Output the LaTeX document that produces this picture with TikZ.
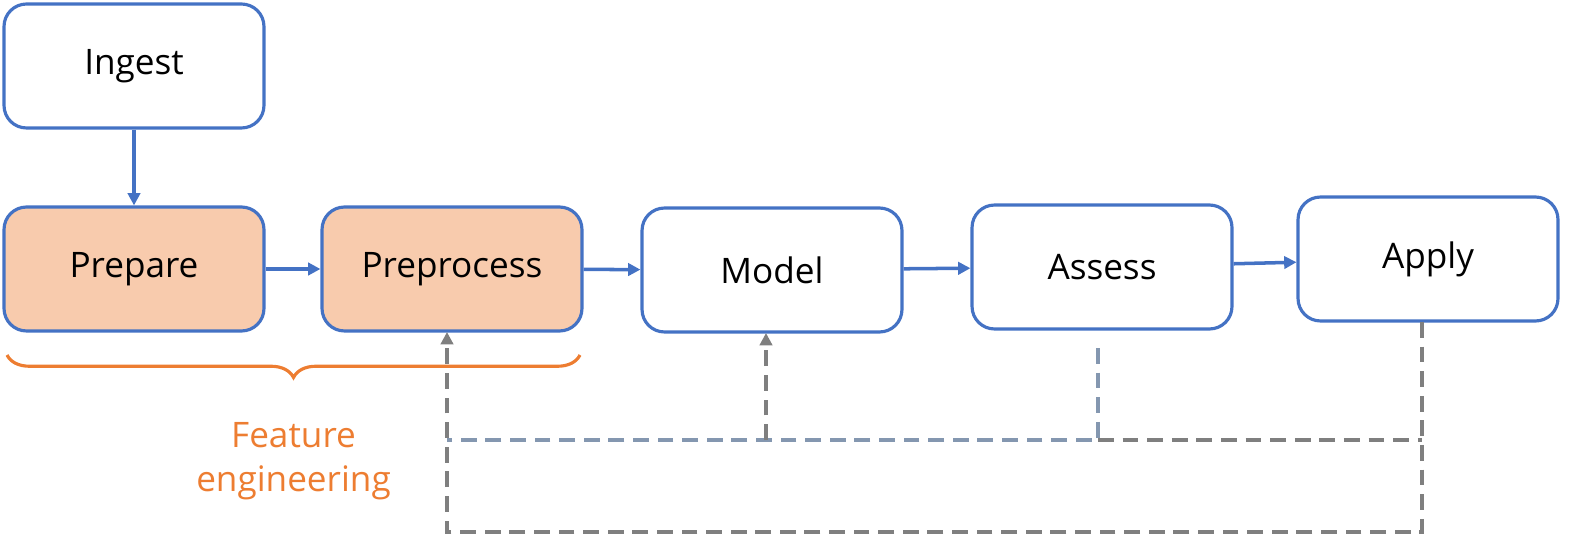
\documentclass[tikz,border=0pt]{standalone}
\usepackage{fontspec}
\setmainfont{Open Sans}
\usetikzlibrary{positioning,decorations.pathreplacing,arrows.meta}
\definecolor{boxblue}{HTML}{4472C4}
\definecolor{peach}{HTML}{F8CBAD}
\definecolor{featorange}{HTML}{ED7D31}
\definecolor{loopgray}{HTML}{7F7F7F}
\definecolor{loopblue}{HTML}{8497B0}
\tikzset{
  stage/.style={draw=boxblue,line width=1.8pt,rounded corners=0.45cm,fill=white,
    minimum width=5.2cm,minimum height=2.48cm,font=\fontsize{20}{22}\selectfont},
  feat/.style={stage,fill=peach},
  flow/.style={boxblue,line width=2pt,-{Triangle[length=7pt,width=7pt]}},
  back/.style={loopgray,line width=1.8pt,dash pattern=on 9pt off 5pt},
  backb/.style={loopblue,line width=1.8pt,dash pattern=on 9pt off 5pt},
}
\begin{document}
\begin{tikzpicture}[x=0.02cm,y=-0.02cm]
  \useasboundingbox (0,0) rectangle (1594,550);
  \clip (0,0) rectangle (1594,550);
  \node[stage] (ingest) at (134,66) {Ingest};
  \node[feat] (prepare) at (134,269) {Prepare};
  \node[feat] (preprocess) at (452,269) {Preprocess};
  \node[stage] (model) at (772,270) {Model};
  \node[stage] (assess) at (1102,267) {Assess};
  \node[stage] (apply) at (1428,259) {Apply};
  \draw[flow] (ingest) -- (prepare);
  \draw[flow] (prepare) -- (preprocess);
  \draw[flow] (preprocess) -- (model);
  \draw[flow] (model) -- (assess);
  \draw[flow] (assess) -- (apply);
  % feedback loops
  \coordinate (assessout) at (1098,348);
  \coordinate (applyout) at (1422,322);
  \coordinate (modelin) at (766,333);
  \coordinate (prepin) at (447,332);
  \draw[backb] (assessout) -- (1098,440) -- (447,440);
  \draw[back] (1098,440) -- (1422,440);
  \draw[back,-{Triangle[length=7pt,width=7pt]}] (766,440) -- (modelin);
  \draw[back,-{Triangle[length=7pt,width=7pt]}] (applyout) -- (1422,532) -- (447,532)
    -- (prepin);
  % feature engineering brace
  \coordinate (bl) at (7,355);
  \coordinate (br) at (580,355);
  \draw[featorange,line width=1.8pt,decorate,decoration={brace,mirror,amplitude=0.45cm}]
    (bl) -- (br) node[midway,below=1.2cm,align=center,text=featorange,
    font=\fontsize{20}{25}\selectfont] (fe) {Feature\\engineering};
\end{tikzpicture}
\end{document}
